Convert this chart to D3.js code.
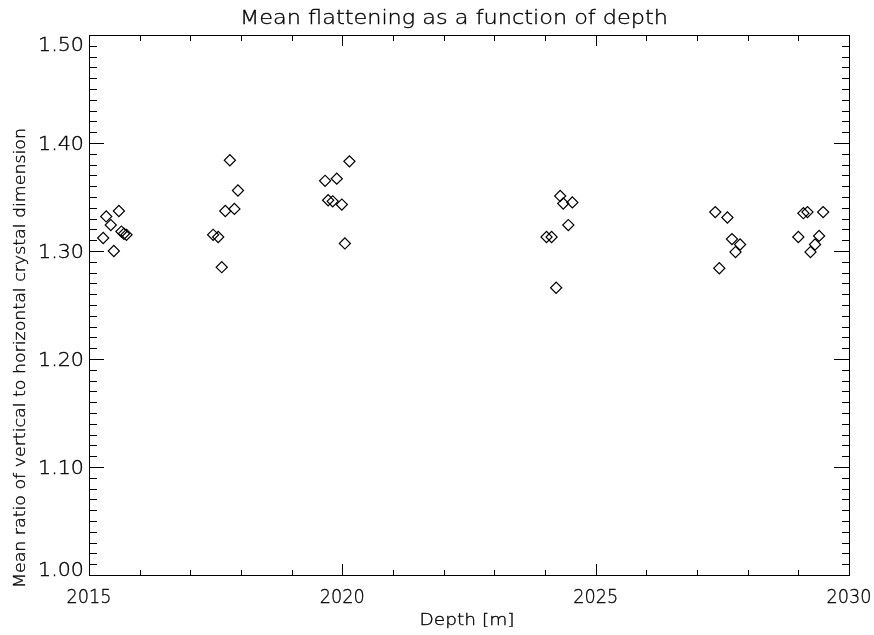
<!DOCTYPE html>
<html>
<head>
<meta charset="utf-8">
<script src="https://cdn.jsdelivr.net/npm/d3@7/dist/d3.min.js"></script>
<style>
  html, body { margin: 0; padding: 0; background: #fff; }
  svg text { font-family: "DejaVu Sans", "Liberation Sans", sans-serif; font-weight: 200; fill: #000; stroke: #000; stroke-width: 0.35; }
  .labels { opacity: 0.995; will-change: transform; }
</style>
</head>
<body>
<svg id="chart" width="874" height="635"></svg>
<script>
// Sample depths (m) and mean vertical/horizontal crystal ratio
const depths = [
  2015.28, 2015.34, 2015.43, 2015.49, 2015.59, 2015.64, 2015.69, 2015.74,
  2017.45, 2017.55, 2017.62, 2017.69, 2017.78, 2017.87, 2017.94,
  2019.66, 2019.72, 2019.81, 2019.89, 2019.99, 2020.05, 2020.14,
  2024.03, 2024.13, 2024.22, 2024.30, 2024.36, 2024.46, 2024.54,
  2027.36, 2027.44, 2027.60, 2027.69, 2027.76, 2027.85,
  2029.00, 2029.10, 2029.18, 2029.24, 2029.33, 2029.41, 2029.49
];
const ratios = [
  1.312, 1.332, 1.324, 1.300, 1.337, 1.318, 1.316, 1.315,
  1.315, 1.313, 1.285, 1.337, 1.384, 1.339, 1.356,
  1.365, 1.347, 1.346, 1.367, 1.343, 1.307, 1.383,
  1.313, 1.313, 1.266, 1.351, 1.344, 1.324, 1.345,
  1.336, 1.284, 1.331, 1.311, 1.299, 1.306,
  1.313, 1.335, 1.336, 1.299, 1.306, 1.314, 1.336
];
const xTicks = [2015, 2020, 2025, 2030];
const yTicks = [1.00, 1.10, 1.20, 1.30, 1.40, 1.50];
const titleText = "Mean flattening as a function of depth";
const xLabelText = "Depth [m]";
const yLabelText = "Mean ratio of vertical to horizontal crystal dimension";

const svg = d3.select("#chart");
const L = 89, R = 849, T = 35, B = 575;

const x = d3.scaleLinear().domain([2015, 2030]).range([L, R]);
const y = d3.scaleLinear().domain([1.0, 1.5]).range([B, T]);

const xMinor = d3.range(2015, 2030.001, 1);
const yMinor = d3.range(0, 51).map(i => 1.0 + i * 0.01);

const xMaj = 11, xMin = 5.5, yMaj = 15, yMin = 7.5;

const axes = svg.append("g").attr("stroke", "#000").attr("stroke-width", 1).attr("shape-rendering", "crispEdges");

// Frame
axes.append("rect").attr("x", L).attr("y", T).attr("width", R - L).attr("height", B - T)
  .attr("fill", "none");

// X ticks (bottom pointing up, top pointing down)
xMinor.forEach(v => {
  const len = xTicks.includes(v) ? xMaj : xMin;
  const px = Math.round(x(v)) + 0.5;
  axes.append("line").attr("x1", px).attr("x2", px).attr("y1", B).attr("y2", B - len);
  axes.append("line").attr("x1", px).attr("x2", px).attr("y1", T).attr("y2", T + len);
});

// Y ticks (left pointing right, right pointing left)
yMinor.forEach(v => {
  const major = Math.abs(Math.round(v * 10) - v * 10) < 1e-6;
  const len = major ? yMaj : yMin;
  const py = Math.round(y(v)) + 0.5;
  axes.append("line").attr("y1", py).attr("y2", py).attr("x1", L).attr("x2", L + len);
  axes.append("line").attr("y1", py).attr("y2", py).attr("x1", R).attr("x2", R - len);
});

const labels = svg.append("g").attr("class", "labels");

// Tick labels
labels.append("g").selectAll("text").data(xTicks).join("text")
  .attr("x", d => x(d)).attr("y", B + 28)
  .attr("text-anchor", "middle").attr("font-size", 19)
  .attr("textLength", 45).attr("lengthAdjust", "spacingAndGlyphs")
  .text(d => d);

labels.append("g").selectAll("text").data(yTicks).join("text")
  .attr("x", L - 5)
  .attr("y", d => Math.min(Math.max(y(d), T + 9), B - 6) + 7)
  .attr("text-anchor", "end").attr("font-size", 19)
  .attr("textLength", 46).attr("lengthAdjust", "spacingAndGlyphs")
  .text(d => d.toFixed(2));

// Titles
labels.append("text").attr("x", 454).attr("y", 24).attr("text-anchor", "middle")
  .attr("font-size", 19).attr("textLength", 428).attr("lengthAdjust", "spacingAndGlyphs")
  .text(titleText);

labels.append("text").attr("x", 467).attr("y", 625).attr("text-anchor", "middle")
  .attr("font-size", 16).attr("textLength", 95).attr("lengthAdjust", "spacingAndGlyphs")
  .text(xLabelText);

labels.append("text").attr("transform", "translate(25,358) rotate(-90)")
  .attr("text-anchor", "middle").attr("font-size", 16)
  .attr("textLength", 460).attr("lengthAdjust", "spacingAndGlyphs")
  .text(yLabelText);

// Diamond markers
const diamond = d3.symbol().type(d3.symbolSquare).size(62);
svg.append("g").selectAll("path").data(depths.map((d, i) => [d, ratios[i]])).join("path")
  .attr("d", diamond)
  .attr("transform", d => `translate(${x(d[0])},${y(d[1])}) rotate(45)`)
  .attr("fill", "none").attr("stroke", "#000").attr("stroke-width", 1.2);
</script>
</body>
</html>
